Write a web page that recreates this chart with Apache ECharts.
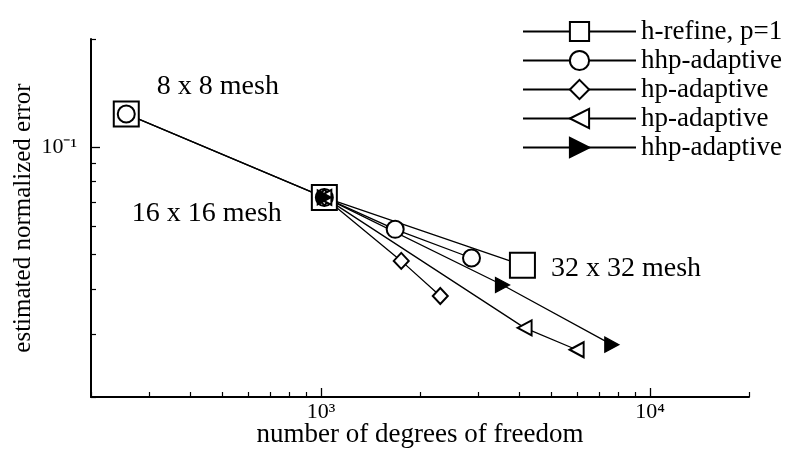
<!DOCTYPE html>
<html>
<head>
<meta charset="utf-8">
<script src="https://cdn.jsdelivr.net/npm/echarts@6/dist/echarts.min.js"></script>
<style>
html,body{margin:0;padding:0;background:#fff;}
#chart{width:794px;height:453px;}
</style>
</head>
<body>
<div id="chart"></div>
<script>
// ---- data ----
var seriesNames = ['h-refine, p=1', 'hhp-adaptive', 'hp-adaptive', 'hp-adaptive', 'hhp-adaptive'];
var seriesKeys = ['s0', 's1', 's2', 's3', 's4'];
var hRefineDof = [256, 1024, 4096];
var hRefineErr = [0.1235, 0.0722, 0.0467];
var hhpADof = [256, 1024, 1681, 2868];
var hhpAErr = [0.1235, 0.0722, 0.0588, 0.0489];
var hpADof = [1024, 1754, 2305];
var hpAErr = [0.0722, 0.0480, 0.0383];
var hpBDof = [1024, 4159, 5987];
var hpBErr = [0.0722, 0.0312, 0.0271];
var hhpBDof = [1024, 3563, 7657];
var hhpBErr = [0.0722, 0.0411, 0.0280];
var meshLabels = ['8 x 8 mesh', '16 x 16 mesh', '32 x 32 mesh'];
var xMinorTicks = [200, 300, 400, 500, 600, 700, 800, 900, 2000, 3000, 4000, 5000, 6000, 7000, 8000, 9000, 20000];
var xMajorTicks = [1000, 10000];
var xMajorLabels = {1000: '10\u00B3', 10000: '10\u2074'};
var yMinorTicks = [0.02, 0.03, 0.04, 0.05, 0.06, 0.07, 0.08, 0.09, 0.2];
var yMajorTicks = [0.1];
var yMajorLabels = {0.1: '10\u207B\u00B9'};

// ---- styling ----
var FONT = 'Liberation Serif';
var INK = '#000';

function pairs(xs, ys) {
  return xs.map(function (x, i) { return [x, ys[i]]; });
}

var meshLabelStyle = [
  {position: 'right', offset: [17, -27]},
  {position: 'left', offset: [-29, 16]},
  {position: 'right', offset: [15, 3]}
];

var hRefineData = pairs(hRefineDof, hRefineErr).map(function (p, i) {
  return {
    value: p,
    label: Object.assign({
      show: true,
      formatter: meshLabels[i],
      distance: 0,
      color: INK,
      fontFamily: FONT,
      fontSize: 28
    }, meshLabelStyle[i])
  };
});

function lineSeries(key, data, symbol, size, rotate) {
  return {
    type: 'line',
    name: key,
    data: data,
    symbol: symbol,
    symbolSize: size,
    symbolRotate: rotate || 0,
    showAllSymbol: true,
    lineStyle: {color: INK, width: 1.3},
    itemStyle: {color: INK, borderColor: INK, borderWidth: 1.3},
    emphasis: {disabled: true},
    animation: false,
    z: 2
  };
}

var gridBox = {left: 91, top: 39, width: 658, height: 359};

var option = {
  animation: false,
  backgroundColor: '#fff',
  grid: Object.assign({containLabel: false}, gridBox),
  legend: {
    orient: 'vertical',
    left: 522,
    top: 18,
    padding: 0,
    itemWidth: 113,
    itemHeight: 24,
    itemGap: 2,
    data: seriesKeys.map(function (k) { return {name: k}; }),
    formatter: function (k) { return seriesNames[seriesKeys.indexOf(k)]; },
    textStyle: {fontFamily: FONT, fontSize: 27, color: INK},
    selectedMode: false
  },
  xAxis: [{
    type: 'log',
    logBase: 10,
    min: 200,
    max: 20000,
    name: 'number of degrees of freedom',
    nameLocation: 'middle',
    nameGap: 24,
    nameTextStyle: {fontFamily: FONT, fontSize: 27, color: INK},
    axisLine: {show: true, lineStyle: {color: INK, width: 2}},
    axisTick: {show: true, inside: true, length: 5, customValues: xMinorTicks, lineStyle: {color: INK, width: 1.2}},
    axisLabel: {show: false},
    splitLine: {show: false},
    minorTick: {show: false}
  }, {
    type: 'log',
    logBase: 10,
    min: 200,
    max: 20000,
    position: 'bottom',
    axisLine: {show: false},
    axisTick: {show: true, inside: true, length: 9, customValues: xMajorTicks, lineStyle: {color: INK, width: 1.3}},
    axisLabel: {
      show: true,
      customValues: xMajorTicks,
      margin: 4,
      fontFamily: FONT,
      fontSize: 22,
      color: INK,
      formatter: function (v) { return xMajorLabels[Math.round(v)]; }
    },
    splitLine: {show: false}
  }],
  yAxis: [{
    type: 'log',
    logBase: 10,
    min: 0.02,
    max: 0.2,
    name: 'estimated normalized error',
    nameLocation: 'middle',
    nameGap: 55,
    nameTextStyle: {fontFamily: FONT, fontSize: 25, color: INK},
    axisLine: {show: true, lineStyle: {color: INK, width: 2}},
    axisTick: {show: true, inside: true, length: 5, customValues: yMinorTicks, lineStyle: {color: INK, width: 1.2}},
    axisLabel: {show: false},
    splitLine: {show: false},
    minorTick: {show: false}
  }, {
    type: 'log',
    logBase: 10,
    min: 0.02,
    max: 0.2,
    position: 'left',
    axisLine: {show: false},
    axisTick: {show: true, inside: true, length: 9, customValues: yMajorTicks, lineStyle: {color: INK, width: 1.3}},
    axisLabel: {
      show: true,
      customValues: yMajorTicks,
      margin: 14,
      fontFamily: FONT,
      fontSize: 22,
      color: INK,
      formatter: function (v) { return yMajorLabels[v]; }
    },
    splitLine: {show: false}
  }],
  series: [
    lineSeries(seriesKeys[0], hRefineData, 'emptyRect', 25, 0),
    lineSeries(seriesKeys[1], pairs(hhpADof, hhpAErr), 'emptyCircle', 17, 0),
    lineSeries(seriesKeys[2], pairs(hpADof, hpAErr), 'emptyDiamond', [15, 16], 0),
    lineSeries(seriesKeys[3], pairs(hpBDof, hpBErr), 'emptyTriangle', [15, 14], 90),
    lineSeries(seriesKeys[4], pairs(hhpBDof, hhpBErr), 'triangle', [15, 14], -90)
  ]
};

var chart = echarts.init(document.getElementById('chart'), null, {renderer: 'canvas'});
chart.setOption(option);
</script>
</body>
</html>
